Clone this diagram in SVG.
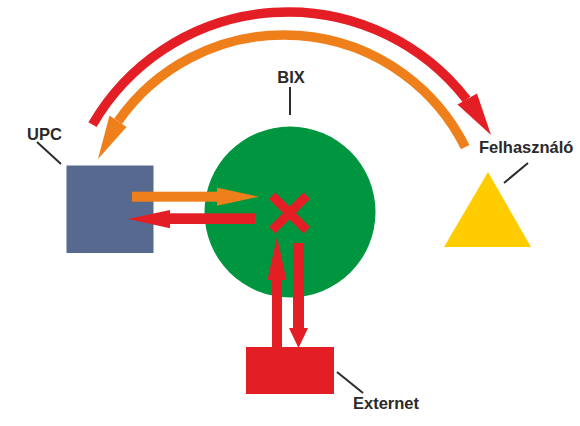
<svg xmlns="http://www.w3.org/2000/svg" width="580" height="426" viewBox="0 0 580 426">
<style>
.lbl{font-family:"Liberation Sans",Arial,sans-serif;font-weight:bold;font-size:16.5px;fill:#2b2a29}
.lead{stroke:#2b2a29;stroke-width:2;fill:none}
.red{fill:#e31e24}
.org{fill:#ef7f1a}
</style>
<rect width="580" height="426" fill="#ffffff"/>
<g id="BIX">
<circle cx="290" cy="212" r="85.5" fill="#009640"/>
<g stroke="#e31e24" stroke-width="9">
<line x1="272.2" y1="195.7" x2="306.8" y2="230.3"/>
<line x1="306.8" y1="195.7" x2="272.2" y2="230.3"/>
</g>
<line class="lead" x1="290" y1="87" x2="290" y2="115"/>
<text class="lbl" x="291" y="83" text-anchor="middle">BIX</text>
</g>
<g id="UPC">
<rect x="66.5" y="165.5" width="87" height="87.5" fill="#58698f"/>
<line class="lead" x1="37" y1="142" x2="61" y2="164"/>
<text class="lbl" x="44.5" y="140" text-anchor="middle">UPC</text>
</g>
<g id="Felhasznalo">
<polygon points="488,172 531,247 444,247" fill="#ffcc00"/>
<line class="lead" x1="528" y1="163" x2="504" y2="183"/>
<text class="lbl" x="479" y="153">Felhasználó</text>
</g>
<g id="Externet">
<rect x="246" y="347" width="88" height="47" fill="#e31e24"/>
<line class="lead" x1="337" y1="372" x2="363" y2="393"/>
<text class="lbl" x="353" y="409">Externet</text>
</g>
<g id="connectors">
<path d="M92.5 124.7 A226 226 0 0 1 466.6 99.4" fill="none" stroke="#e31e24" stroke-width="9.5"/>
<polygon class="red" points="457.5,104.5 477,93.5 491,135"/>
<path d="M118.1 121.3 A202.5 202.5 0 0 1 465.2 147.1" fill="none" stroke="#ef7f1a" stroke-width="9.5"/>
<polygon class="org" points="109.5,115.5 126.5,127 98,159"/>
<rect class="org" x="132" y="191.7" width="86" height="10"/>
<polygon class="org" points="217,187.7 259,196.7 217,205.7"/>
<rect class="red" x="169" y="213.3" width="86" height="10.7"/>
<polygon class="red" points="170,210 128,219 170,228.3"/>
<rect class="red" x="272" y="279" width="10" height="68.5"/>
<polygon class="red" points="267.5,280 277,237 286.5,280"/>
<rect class="red" x="293" y="243" width="11" height="86"/>
<polygon class="red" points="289,328 308,328 298.5,348"/>
</g>
</svg>
